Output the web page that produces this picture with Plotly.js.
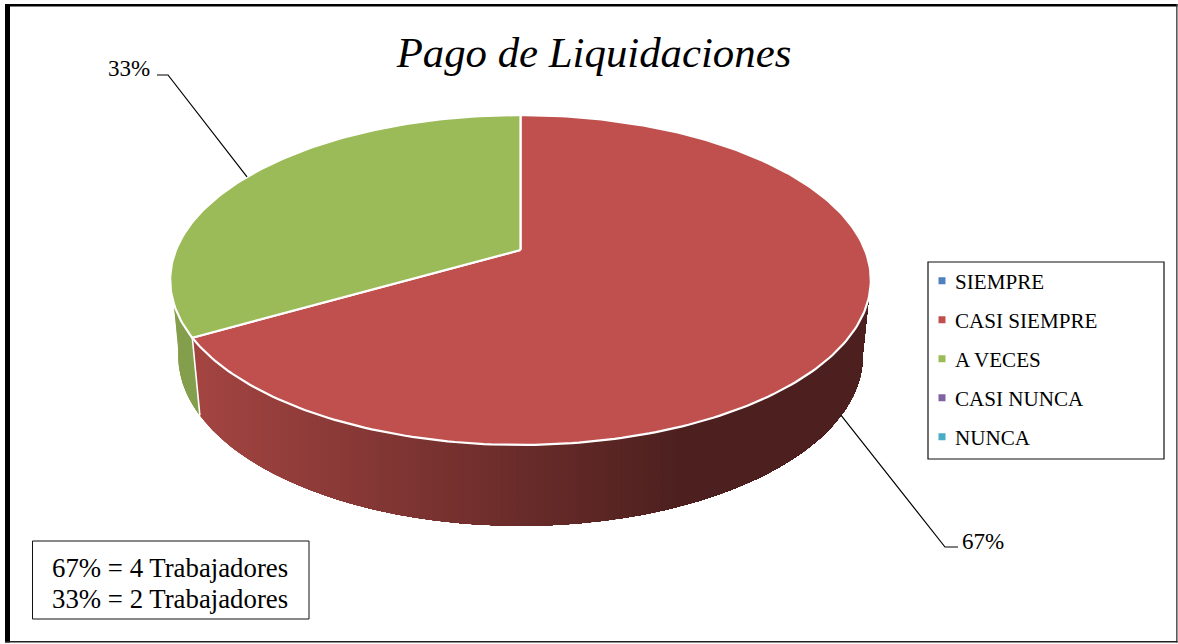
<!DOCTYPE html>
<html><head><meta charset="utf-8">
<script src="https://cdn.plot.ly/plotly-3.0.1.min.js"></script>
<style>
html,body{margin:0;padding:0;background:#fff}
#chart{width:1178px;height:644px}
.legend .legendsymbols{transform:translateX(7px)}
</style></head><body><div id="chart"></div>
<script>
// ---- data ----
const categories = ['SIEMPRE','CASI SIEMPRE','A VECES','CASI NUNCA','NUNCA'];
const workers    = [0,4,2,0,0];
const colors     = ['#4f81bd','#c0504d','#9bbb59','#8064a2','#4bacc6'];
const chartTitle = 'Pago de Liquidaciones';
const unitLabel  = 'Trabajadores';

// ---- projection of the tilted disc into plot coordinates (perspective) ----
const FONT = '"Liberation Serif","Times New Roman",serif';
const k = 0.1818, W = 344.5, A = 159.5, CX = 520.5, TOPY = 250;
const RIM = {sx:0.977, sy:1.03, cy:325};
const rad = d => d*Math.PI/180;
function topPt(a){const u=Math.sin(rad(a)),v=Math.cos(rad(a)),d=1+k*v;return [CX+W*u/d,TOPY-A*v/d];}
function rimPt(a){const u=Math.sin(rad(a)),v=Math.cos(rad(a)),d=1+k*v;return [CX+RIM.sx*W*u/d,RIM.cy-RIM.sy*A*v/d];}
function hexRgb(h){return [1,3,5].map(i=>parseInt(h.substr(i,2),16));}
function shade(hex,x){
  const t=Math.max(0,Math.min(1,(x-200)/480)), f=0.85-0.45*t;
  const c=hexRgb(hex).map(v=>Math.round(v*f));
  return `rgb(${c[0]},${c[1]},${c[2]})`;
}
// keep the part of a polygon to the right of x = xc
function clipRight(poly,xc){
  const out=[];
  for(let i=0;i<poly.length;i++){
    const p=poly[i],q=poly[(i+1)%poly.length],pin=p[0]>=xc,qin=q[0]>=xc;
    if(pin) out.push(p);
    if(pin!==qin){const t=(xc-p[0])/(q[0]-p[0]);out.push([xc,p[1]+t*(q[1]-p[1])]);}
  }
  return out;
}

const total = workers.reduce((a,b)=>a+b,0);
const traces = [], slices = [];
let acc = 0;
categories.forEach((name,i)=>{
  const share = workers[i]/total;
  if(share>0) slices.push({name,color:colors[i],start:acc*360,end:(acc+share)*360,value:workers[i],pct:Math.round(share*100)});
  acc += share;
});

// side wall: painted left to right in vertical bands so that no seams appear
const VIS = [100,262], BAND = 4;
slices.forEach(s=>{
  const a0=Math.max(s.start,VIS[0]), a1=Math.min(s.end,VIS[1]);
  if(a1<=a0) return;
  const upper=[],lower=[];
  for(let a=a0;a<=a1+1e-6;a+=1){upper.push(topPt(a));lower.push(rimPt(a));}
  const wall=upper.concat(lower.reverse());
  const xmin=Math.min(...wall.map(p=>p[0])), xmax=Math.max(...wall.map(p=>p[0]));
  for(let xc=xmin;xc<xmax;xc+=BAND){
    const poly=clipRight(wall,xc);
    if(poly.length<3) continue;
    poly.push(poly[0]);
    traces.push({type:'scatter',mode:'lines',x:poly.map(q=>q[0]),y:poly.map(q=>q[1]),fill:'toself',
      fillcolor:shade(s.color,xc+BAND/2),line:{width:0},hoverinfo:'skip',showlegend:false});
  }
});
// white edge on the wall at each slice boundary
slices.forEach(s=>{
  const p=[topPt(s.start),rimPt(s.start)];
  if(Math.cos(rad(s.start))<0) traces.push({type:'scatter',mode:'lines',x:p.map(q=>q[0]),y:p.map(q=>q[1]),
    line:{color:'#fff',width:1.6},hoverinfo:'skip',showlegend:false});
});
// top faces
slices.forEach(s=>{
  const xs=[CX],ys=[TOPY];
  for(let a=s.start;a<=s.end+1e-6;a+=1){const q=topPt(a);xs.push(q[0]);ys.push(q[1]);}
  xs.push(CX);ys.push(TOPY);
  traces.push({type:'scatter',mode:'lines',x:xs,y:ys,fill:'toself',fillcolor:s.color,
    line:{color:'#fff',width:2.2},hoverinfo:'skip',showlegend:false,name:s.name});
});
// legend entries
categories.forEach((name,i)=>{
  traces.push({type:'scatter',mode:'markers',x:[null],y:[null],name,legendgroup:name,
    marker:{symbol:'square',size:7,color:colors[i]},hoverinfo:'skip'});
});

// leader lines and labels, anchored on each slice's mid angle
const annotations=[], shapes=[];
const leader = {
  'CASI SIEMPRE':{anchor:rimPt,elbow:[945,547],end:[958,547],label:[960,541],xanchor:'left'},
  'A VECES':{anchor:topPt,elbow:[168,75],end:[157,75],label:[152,68],xanchor:'right'}
};
slices.forEach(s=>{
  const L=leader[s.name]; if(!L) return;
  const p=L.anchor((s.start+s.end)/2);
  traces.push({type:'scatter',mode:'lines',x:[p[0],L.elbow[0],L.end[0]],y:[p[1],L.elbow[1],L.end[1]],
    line:{color:'#000',width:1.2},hoverinfo:'skip',showlegend:false});
  annotations.push({x:L.label[0],y:L.label[1],xref:'x',yref:'y',text:s.pct+'%',showarrow:false,
    xanchor:L.xanchor,yanchor:'middle',font:{family:FONT,size:23,color:'#000'}});
});
// note box
const noteRows=[568,599];
slices.forEach((s,i)=>{
  annotations.push({x:170,y:noteRows[i],xref:'x',yref:'y',showarrow:false,xanchor:'center',yanchor:'middle',
    text:`${s.pct}% = ${s.value} ${unitLabel}`,font:{family:FONT,size:26.8,color:'#000'}});
});
shapes.push({type:'rect',xref:'x',yref:'y',x0:32.5,x1:309,y0:541,y1:619,line:{color:'#111',width:1},fillcolor:'rgba(0,0,0,0)'});
shapes.push({type:'rect',xref:'x',yref:'y',x0:928,x1:1164,y0:262,y1:459,line:{color:'#111',width:1.2},fillcolor:'rgba(0,0,0,0)'});
// outer frame
[[5,10,4,642.5,'#000'],[5,1177.5,4,6.6,'#000'],[1176.2,1177.5,4,642.5,'#333'],[5,1177.5,641,642.5,'#222']].forEach(r=>{
  shapes.push({type:'rect',xref:'x',yref:'y',x0:r[0],x1:r[1],y0:r[2],y1:r[3],fillcolor:r[4],line:{width:0}});
});

const layout={
  width:1178,height:644,autosize:false,
  margin:{l:0,r:0,t:0,b:0,pad:0},
  paper_bgcolor:'#fff',plot_bgcolor:'#fff',
  title:{text:chartTitle,x:594/1178,y:1-52/644,xref:'paper',yref:'paper',xanchor:'center',yanchor:'middle',
    font:{family:FONT,size:42.8,style:'italic',color:'#000'}},
  xaxis:{range:[0,1178],visible:false,fixedrange:true},
  yaxis:{range:[644,0],visible:false,fixedrange:true},
  showlegend:true,
  legend:{x:915/1178,y:1-260.5/644,xanchor:'left',yanchor:'top',bgcolor:'rgba(0,0,0,0)',borderwidth:0,
    font:{family:FONT,size:21.1,color:'#000'},tracegroupgap:8.6,itemclick:false,itemdoubleclick:false},
  annotations,shapes
};
Plotly.newPlot('chart',traces,layout,{displayModeBar:false,staticPlot:true});
</script></body></html>
